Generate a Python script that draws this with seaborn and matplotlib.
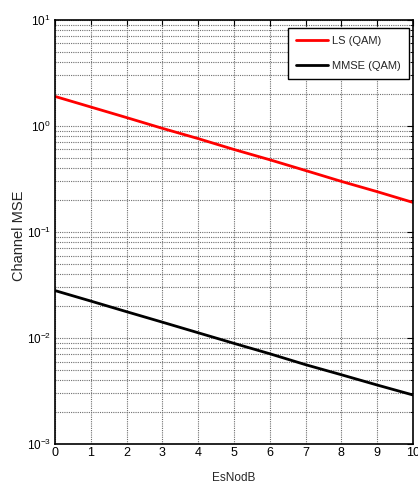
import matplotlib
matplotlib.use("Agg")
import matplotlib.pyplot as plt
from matplotlib import font_manager
import seaborn as sns
import pandas as pd
from matplotlib.ticker import LogLocator, NullFormatter, FuncFormatter
import numpy as np

esno = [0, 1, 2, 3, 4, 5, 6, 7, 8, 9, 10]
ls_mse = [1.9, 1.51, 1.2, 0.95, 0.76, 0.6, 0.48, 0.38, 0.30, 0.24, 0.19]
mmse_mse = [0.028, 0.0223, 0.0177, 0.0141, 0.0112, 0.0089, 0.0071, 0.0056, 0.0045, 0.0036, 0.0029]
series_names = ["LS (QAM)", "MMSE (QAM)"]

df = pd.DataFrame({
    "EsNodB": esno * 2,
    "MSE": ls_mse + mmse_mse,
    "series": [series_names[0]] * len(esno) + [series_names[1]] * len(esno),
})

try:
    font_manager.findfont("Liberation Sans Narrow", fallback_to_default=False)
    main_font = "Liberation Sans Narrow"
    tick_size, xlab_size, leg_size = 10, 10, 9.5
except Exception:
    main_font = "Liberation Sans"
    tick_size, xlab_size, leg_size = 9, 8.5, 8

sns.set_theme(style="white")
plt.rcParams['font.family'] = [main_font, 'DejaVu Sans']
plt.rcParams['mathtext.fontset'] = 'custom'
plt.rcParams['mathtext.rm'] = main_font
plt.rcParams['mathtext.it'] = main_font
plt.rcParams['mathtext.bf'] = main_font
plt.rcParams['mathtext.default'] = 'regular'

fig = plt.figure(figsize=(4.18, 4.87), dpi=100)
ax = fig.add_axes([0.1316, 0.0883, 0.8564, 0.8707])

sns.lineplot(data=df, x="EsNodB", y="MSE", hue="series",
             palette={"LS (QAM)": "#ff0000", "MMSE (QAM)": "#000000"},
             linewidth=2, ax=ax)

ax.set_yscale("log")
ax.set_xlim(0, 10)
ax.set_ylim(1e-3, 1e1)
ax.set_xticks(range(0, 11))
ax.yaxis.set_major_locator(LogLocator(base=10, numticks=10))
ax.yaxis.set_major_formatter(FuncFormatter(lambda v, p: r"$10^{%d}$" % int(round(np.log10(v)))))
ax.yaxis.set_minor_locator(LogLocator(base=10, subs=range(2, 10), numticks=100))
ax.yaxis.set_minor_formatter(NullFormatter())

grid_style = dict(color="#6e6e6e", linestyle=(0, (1, 1)), linewidth=0.8)
ax.grid(True, which="major", axis="both", **grid_style)
ax.grid(True, which="minor", axis="y", **grid_style)

ax.tick_params(axis="both", which="both", direction="in", top=True, right=True,
               labelsize=tick_size, colors="black")
ax.tick_params(axis="y", labelsize=tick_size - 0.5)
ax.tick_params(axis="both", which="major", length=4, width=0.8)
ax.tick_params(axis="both", which="minor", length=2, width=0.6)
ax.tick_params(axis="x", pad=2)
ax.tick_params(axis="y", pad=3)

for s in ax.spines.values():
    s.set_color("black")
    s.set_linewidth(1.2)

ax.set_xlabel("EsNodB", fontsize=xlab_size)
ax.xaxis.set_label_coords(0.5, -0.066)
ax.set_ylabel("Channel MSE", fontsize=10.5, family=['Liberation Sans', 'DejaVu Sans'])
ax.yaxis.set_label_coords(-0.08, 0.49)

leg = ax.legend(loc="upper right", bbox_to_anchor=(0.9888, 0.981), borderaxespad=0,
                fontsize=leg_size, frameon=True, fancybox=False,
                edgecolor="black", framealpha=1, handlelength=2.9, handletextpad=0.36,
                borderpad=0.72, labelspacing=1.34)
leg.get_frame().set_linewidth(1.0)
leg.set_title(None)

fig.savefig("out.png", dpi=100)
